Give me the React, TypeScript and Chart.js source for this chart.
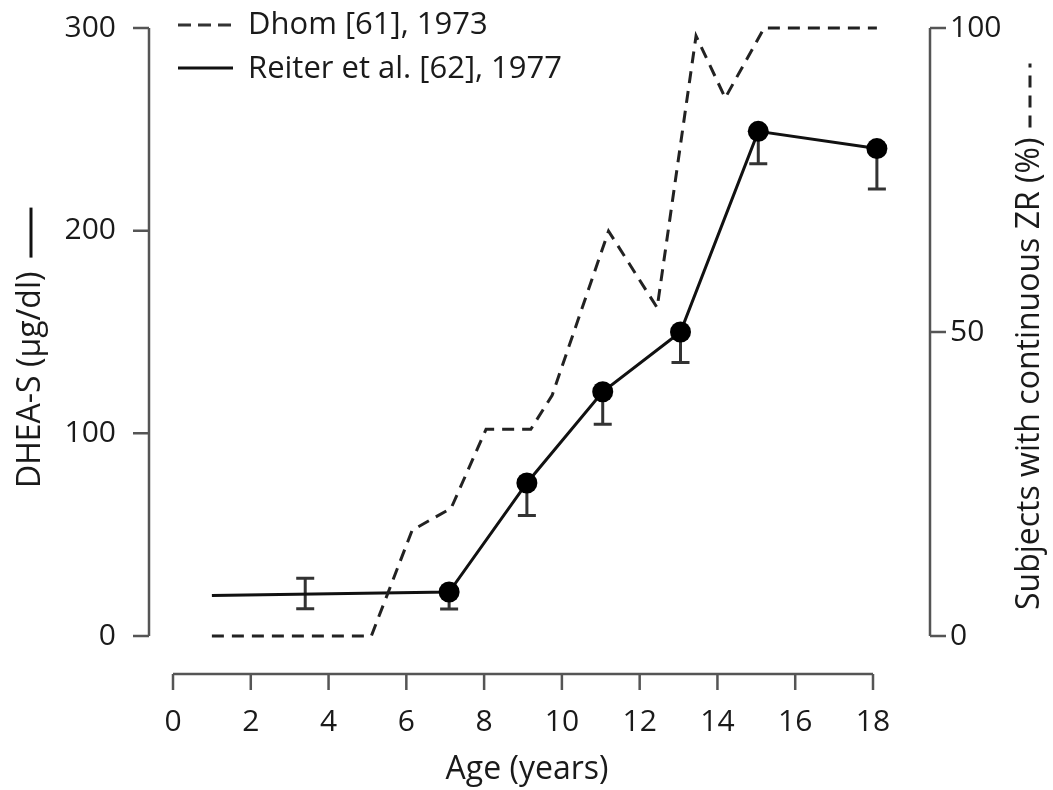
import React, { useEffect, useRef } from "react";
import { Chart, registerables } from "chart.js";

Chart.register(...registerables);

// Reiter et al. [62], 1977 — DHEA-S (µg/dl), left axis
const reiterAge = [1, 7.1, 9.1, 11.05, 13.05, 15.05, 18.1];
const reiterDheas = [20, 21.7, 75.5, 120.5, 150, 249, 240.5];
const reiterMarker = [0, 1, 1, 1, 1, 1, 1];
const reiterErrLow = [0, 8.4, 16, 16, 15, 16, 20];

// prepubertal mean with symmetric error bar (no marker)
const prepubAge = [3.4];
const prepubMean = [21];
const prepubErr = [7.5];

// Dhom [61], 1973 — subjects with continuous ZR (%), right axis
const dhomAge = [1, 5.1, 6.15, 7.15, 8.05, 9.2, 9.75, 11.2, 12.45, 13.45, 14.2, 15.2, 18.1];
const dhomPct = [0, 0, 17.4, 21, 34, 34, 39.6, 66.6, 54, 98.7, 88.5, 100, 100];

const xTicks = [0, 2, 4, 6, 8, 10, 12, 14, 16, 18];
const leftTicks = [0, 100, 200, 300];
const rightTicks = [0, 50, 100];

const legendLabels = ["Dhom [61], 1973", "Reiter et al. [62], 1977"];
const xTitle = "Age (years)";
const leftTitle = "DHEA-S (μg/dl)";
const rightTitle = "Subjects with continuous ZR (%)";

const FONT = '"Open Sans", "DejaVu Sans", sans-serif';
const TEXT = "#1a1a1a";
const AXIS = "#555";

const decorPlugin = {
  id: "decor",
  beforeDatasetsDraw(chart: any) {
    const ctx = chart.ctx;
    const xs = chart.scales.x;
    const ys = chart.scales.y;
    ctx.save();
    ctx.strokeStyle = "#333";
    ctx.lineWidth = 3;
    const cap = 9;
    const drawBar = (x: number, top: number, bottom: number, capTop: boolean) => {
      ctx.beginPath();
      ctx.moveTo(x, top);
      ctx.lineTo(x, bottom);
      ctx.moveTo(x - cap, bottom);
      ctx.lineTo(x + cap, bottom);
      if (capTop) {
        ctx.moveTo(x - cap, top);
        ctx.lineTo(x + cap, top);
      }
      ctx.stroke();
    };
    reiterAge.forEach((a, i) => {
      if (!reiterErrLow[i]) return;
      const px = xs.getPixelForValue(a);
      drawBar(px, ys.getPixelForValue(reiterDheas[i]), ys.getPixelForValue(reiterDheas[i] - reiterErrLow[i]), false);
    });
    prepubAge.forEach((a, i) => {
      const px = xs.getPixelForValue(a);
      drawBar(px, ys.getPixelForValue(prepubMean[i] + prepubErr[i]), ys.getPixelForValue(prepubMean[i] - prepubErr[i]), true);
    });
    ctx.restore();
  },
  afterDraw(chart: any) {
    const ctx = chart.ctx;
    const xs = chart.scales.x;
    const ys = chart.scales.y;
    const y1 = chart.scales.y1;
    const area = chart.chartArea;
    ctx.save();
    ctx.strokeStyle = AXIS;
    ctx.lineWidth = 2.5;
    ctx.fillStyle = TEXT;
    ctx.font = `30px ${FONT}`;

    // x axis
    const xAxisY = 674;
    ctx.beginPath();
    ctx.moveTo(xs.getPixelForValue(xTicks[0]), xAxisY);
    ctx.lineTo(xs.getPixelForValue(xTicks[xTicks.length - 1]), xAxisY);
    xTicks.forEach((t) => {
      const px = xs.getPixelForValue(t);
      ctx.moveTo(px, xAxisY);
      ctx.lineTo(px, xAxisY + 16);
    });
    ctx.stroke();
    ctx.textAlign = "center";
    ctx.textBaseline = "middle";
    xTicks.forEach((t) => {
      ctx.fillText(String(t), xs.getPixelForValue(t), 722);
    });
    ctx.font = `32px ${FONT}`;
    ctx.fillText(xTitle, (area.left + area.right) / 2 + 4, 770);
    ctx.font = `30px ${FONT}`;

    // left axis
    const leftX = 149;
    ctx.beginPath();
    ctx.moveTo(leftX, ys.getPixelForValue(leftTicks[0]));
    ctx.lineTo(leftX, ys.getPixelForValue(leftTicks[leftTicks.length - 1]));
    leftTicks.forEach((t) => {
      const py = ys.getPixelForValue(t);
      ctx.moveTo(leftX, py);
      ctx.lineTo(leftX - 16, py);
    });
    ctx.stroke();
    ctx.textAlign = "right";
    leftTicks.forEach((t) => {
      ctx.fillText(String(t), 116, ys.getPixelForValue(t));
    });

    // right axis
    const rightX = 930;
    ctx.beginPath();
    ctx.moveTo(rightX, y1.getPixelForValue(rightTicks[0]));
    ctx.lineTo(rightX, y1.getPixelForValue(rightTicks[rightTicks.length - 1]));
    rightTicks.forEach((t) => {
      const py = y1.getPixelForValue(t);
      ctx.moveTo(rightX, py);
      ctx.lineTo(rightX + 16, py);
    });
    ctx.stroke();
    ctx.textAlign = "left";
    rightTicks.forEach((t) => {
      ctx.fillText(String(t), 950, y1.getPixelForValue(t));
    });

    // left title (rotated, bottom-to-top) + solid line sample
    ctx.font = `32px ${FONT}`;
    ctx.save();
    ctx.translate(31, 488);
    ctx.rotate(-Math.PI / 2);
    ctx.textAlign = "left";
    ctx.fillText(leftTitle, 0, 0);
    const lw = ctx.measureText(leftTitle).width;
    ctx.strokeStyle = "#111";
    ctx.lineWidth = 3;
    ctx.beginPath();
    ctx.moveTo(lw + 14, 0);
    ctx.lineTo(lw + 64, 0);
    ctx.stroke();
    ctx.restore();

    // right title + dashed sample
    ctx.save();
    ctx.translate(1030, 610);
    ctx.rotate(-Math.PI / 2);
    ctx.textAlign = "left";
    ctx.fillText(rightTitle, 0, 0);
    const rw = ctx.measureText(rightTitle).width;
    ctx.strokeStyle = "#222";
    ctx.lineWidth = 3;
    ctx.setLineDash([12, 8]);
    ctx.beginPath();
    ctx.moveTo(rw + 10, 0);
    ctx.lineTo(rw + 74, 0);
    ctx.stroke();
    ctx.restore();

    // legend
    ctx.textAlign = "left";
    ctx.fillStyle = TEXT;
    ctx.font = `31px ${FONT}`;
    ctx.lineWidth = 3;
    ctx.strokeStyle = "#333";
    ctx.setLineDash([13, 7]);
    ctx.beginPath();
    ctx.moveTo(178, 25);
    ctx.lineTo(233, 25);
    ctx.stroke();
    ctx.setLineDash([]);
    ctx.strokeStyle = "#111";
    ctx.beginPath();
    ctx.moveTo(178, 68);
    ctx.lineTo(233, 68);
    ctx.stroke();
    ctx.fillText(legendLabels[0], 248, 25);
    ctx.fillText(legendLabels[1], 248, 69);

    ctx.restore();
  },
};

export default function App() {
  const ref = useRef<HTMLCanvasElement | null>(null);
  useEffect(() => {
    if (!ref.current) return;
    const chart = new Chart(ref.current, {
      type: "line",
      data: {
        datasets: [
          {
            label: legendLabels[0],
            data: dhomAge.map((a, i) => ({ x: a, y: dhomPct[i] })),
            yAxisID: "y1",
            borderColor: "#222",
            borderWidth: 3,
            borderDash: [12, 8],
            pointRadius: 0,
            tension: 0,
            fill: false,
            clip: false,
          },
          {
            label: legendLabels[1],
            data: reiterAge.map((a, i) => ({ x: a, y: reiterDheas[i] })),
            yAxisID: "y",
            borderColor: "#111",
            borderWidth: 3,
            pointRadius: reiterMarker.map((m) => (m ? 10.5 : 0)),
            pointBackgroundColor: "#000",
            pointBorderColor: "#000",
            pointBorderWidth: 0,
            tension: 0,
            fill: false,
            clip: false,
          },
        ],
      },
      options: {
        responsive: false,
        animation: false,
        devicePixelRatio: 1,
        layout: { padding: { left: 173, right: 180, top: 28, bottom: 154 } },
        plugins: { legend: { display: false }, tooltip: { enabled: false } },
        scales: {
          x: { type: "linear", min: 0, max: 18, display: false },
          y: { type: "linear", min: 0, max: 300, display: false },
          y1: { type: "linear", min: 0, max: 100, display: false },
        },
      },
      plugins: [decorPlugin],
    });
    return () => chart.destroy();
  }, []);
  return (
    <div style={{ position: "absolute", left: 0, top: 0, width: 1053, height: 790, background: "#fff" }}>
      <canvas ref={ref} width={1053} height={790} style={{ display: "block" }} />
    </div>
  );
}
